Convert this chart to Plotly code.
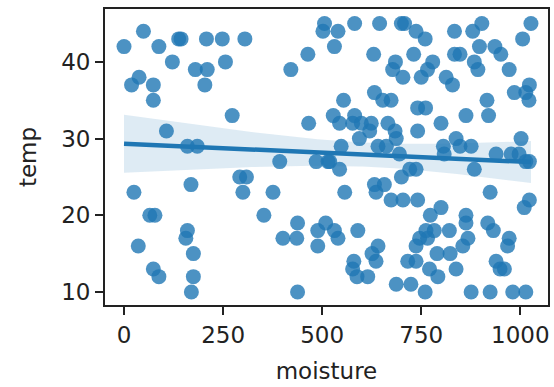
import numpy as np
import plotly.graph_objects as go

moisture = [0, 49, 88, 138, 144, 208, 248, 305, 122, 180, 210, 256, 204, 38, 19, 74, 74, 273, 107, 160,
            185, 421, 464, 466, 393, 25, 169, 65, 78, 160, 156, 175, 36, 74, 88, 175, 170, 292, 309, 300,
            376, 353, 438, 401, 436, 438, 489, 509, 489, 485, 519, 506, 502, 540, 531, 582, 645, 700, 708, 737,
            760, 630, 685, 678, 704, 731, 779, 766, 750, 813, 829, 834, 880, 903, 834, 848, 897, 936, 951, 884,
            893, 972, 1027, 1006, 1023, 985, 1014, 1022, 916, 554, 632, 653, 674, 741, 761, 528, 582, 863, 920, 544,
            577, 599, 624, 666, 800, 620, 684, 741, 594, 687, 838, 1002, 548, 641, 662, 806, 848, 876, 695, 808,
            939, 977, 997, 515, 1014, 1023, 544, 721, 737, 884, 700, 632, 657, 636, 557, 924, 674, 704, 741, 1023,
            800, 1010, 773, 863, 863, 918, 531, 540, 590, 762, 783, 821, 932, 746, 766, 868, 972, 641, 737, 855,
            968, 626, 790, 823, 636, 580, 716, 737, 939, 577, 771, 838, 949, 960, 588, 615, 792, 687, 724, 760,
            876, 924, 981, 1014]
temp = [42, 44, 42, 43, 43, 43, 43, 43, 40, 39, 39, 40, 37, 38, 37, 37, 35, 33, 31, 29,
        29, 39, 41, 32, 27, 23, 24, 20, 20, 18, 17, 15, 16, 13, 12, 12, 10, 25, 25, 23,
        23, 20, 19, 17, 17, 10, 18, 19, 16, 27, 27, 45, 44, 44, 42, 45, 45, 45, 45, 44,
        43, 41, 40, 39, 38, 41, 40, 39, 38, 38, 37, 44, 44, 45, 41, 41, 42, 42, 41, 40,
        39, 39, 45, 43, 37, 36, 36, 35, 35, 35, 36, 35, 35, 34, 34, 33, 33, 33, 33, 32,
        32, 32, 32, 32, 32, 31, 31, 31, 30, 30, 30, 30, 29, 29, 29, 29, 29, 29, 28, 28,
        28, 28, 28, 27, 27, 27, 26, 26, 26, 26, 25, 24, 24, 23, 23, 23, 22, 22, 22, 22,
        21, 21, 20, 20, 19, 19, 18, 17, 18, 18, 18, 18, 18, 17, 17, 17, 17, 16, 16, 16,
        16, 15, 15, 15, 14, 14, 14, 14, 14, 13, 13, 13, 13, 13, 12, 12, 12, 11, 11, 10,
        10, 10, 10, 10]

x_ticks = [0, 250, 500, 750, 1000]
y_ticks = [10, 20, 30, 40]

x = np.array(moisture, dtype=float)
y = np.array(temp, dtype=float)
n = len(x)
slope, intercept = np.polyfit(x, y, 1)
grid = np.linspace(x.min(), x.max(), 100)
fit = intercept + slope * grid
resid = y - (intercept + slope * x)
s = np.sqrt(np.sum(resid ** 2) / (n - 2))
sxx = np.sum((x - x.mean()) ** 2)
se = s * np.sqrt(1.0 / n + (grid - x.mean()) ** 2 / sxx)
lo = fit - 1.97 * se
hi = fit + 1.97 * se

C0 = "#1f77b4"
FONT = dict(family="DejaVu Sans", size=23, color="#222")
fig = go.Figure()
fig.add_trace(go.Scatter(x=x, y=y, mode="markers",
                         marker=dict(size=15, color=C0, opacity=0.8, line=dict(width=0)),
                         showlegend=False, hoverinfo="skip"))
fig.add_trace(go.Scatter(x=grid, y=lo, mode="lines", line=dict(width=0),
                         showlegend=False, hoverinfo="skip"))
fig.add_trace(go.Scatter(x=grid, y=hi, mode="lines", line=dict(width=0),
                         fill="tonexty", fillcolor="rgba(31,119,180,0.15)",
                         showlegend=False, hoverinfo="skip"))
fig.add_trace(go.Scatter(x=grid, y=fit, mode="lines", line=dict(width=4.5, color=C0),
                         showlegend=False, hoverinfo="skip"))

axis_common = dict(showline=True, linecolor="#222", linewidth=1.8, mirror=True,
                   ticks="outside", ticklen=8, tickwidth=1.8, tickcolor="#222",
                   showgrid=False, zeroline=False, tickfont=FONT)
fig.update_xaxes(range=[-48, 1070], tickvals=x_ticks, ticktext=[str(v) for v in x_ticks],
                 title=dict(text="moisture", font=FONT, standoff=16), **axis_common)
fig.update_yaxes(range=[8.3, 46.9], tickvals=y_ticks, ticktext=[str(v) for v in y_ticks],
                 title=dict(text="temp", font=FONT, standoff=18), **axis_common)
fig.update_layout(width=554, height=387, margin=dict(l=105, r=4, t=9, b=82),
                  plot_bgcolor="white", paper_bgcolor="white")
fig.write_html("out.html", config={"displayModeBar": False},
               post_script="document.body.style.margin='0px';")
